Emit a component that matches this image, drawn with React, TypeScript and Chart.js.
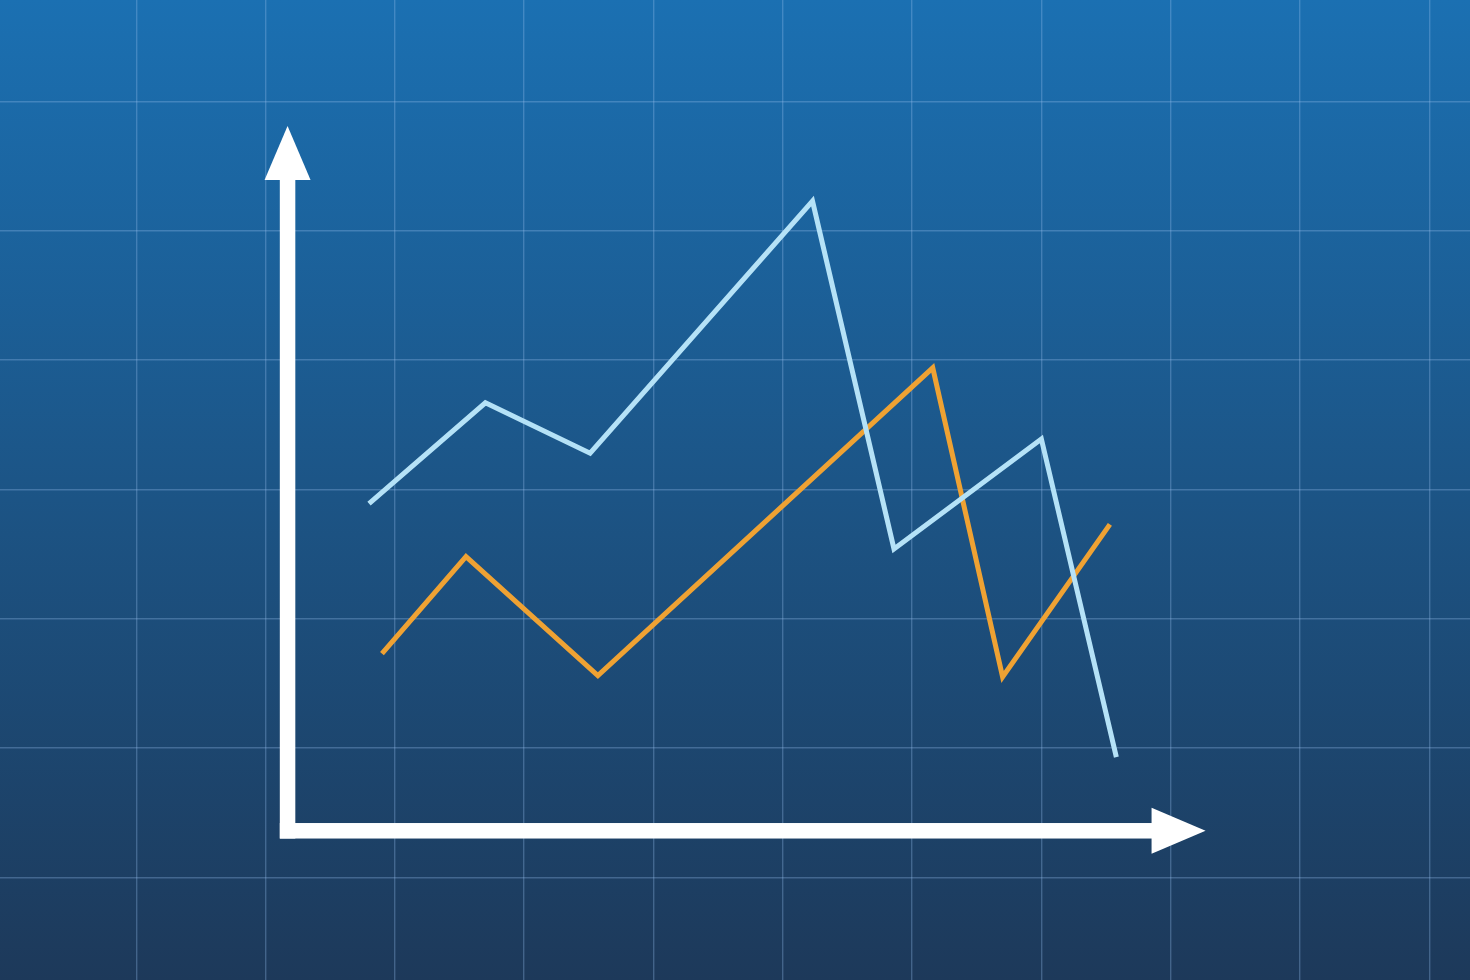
import React, { useEffect, useRef } from 'react';
import { Chart, registerables } from 'chart.js';

Chart.register(...registerables);

// values in grid units, the axis origin is (0, 0)
const blueX = [0.63, 1.53, 2.34, 4.06, 4.69, 5.83, 6.41];
const blueY = [2.53, 3.31, 2.92, 4.87, 2.18, 3.03, 0.57];
const orangeX = [0.73, 1.38, 2.4, 4.99, 5.53, 6.36];
const orangeY = [1.37, 2.12, 1.2, 3.58, 1.19, 2.37];

// background grid positions
const gridX = [-1.17, -0.17, 0.83, 1.83, 2.83, 3.83, 4.83, 5.83, 6.83, 7.83, 8.83];
const gridY = [-0.36, 0.64, 1.64, 2.64, 3.64, 4.64, 5.64];

// visible window and arrow ends
const xRange = [-2.224, 9.145];
const yRange = [-1.154, 6.425];
const axisXEnd = 7.1;
const axisYEnd = 5.45;

const toPoints = (xs: number[], ys: number[]) => xs.map((x, i) => ({ x, y: ys[i] }));

const backgroundPlugin = {
  id: 'bg',
  beforeDraw(chart: any) {
    const { ctx, width, height } = chart;
    const g = ctx.createLinearGradient(0, 0, 0, height);
    g.addColorStop(0, '#1b70b2');
    g.addColorStop(1, '#1d395a');
    ctx.save();
    ctx.fillStyle = g;
    ctx.fillRect(0, 0, width, height);
    ctx.restore();
  },
};

const arrowAxesPlugin = {
  id: 'arrowAxes',
  beforeDatasetsDraw(chart: any) {
    const { ctx } = chart;
    const xs = chart.scales.x;
    const ys = chart.scales.y;
    const ox = xs.getPixelForValue(0);
    const oy = ys.getPixelForValue(0);
    const xTip = xs.getPixelForValue(axisXEnd);
    const yTip = ys.getPixelForValue(axisYEnd);
    const half = 7.75;
    const headLen = 54;
    const headHalf = 23;
    ctx.save();
    ctx.fillStyle = '#ffffff';
    // vertical shaft
    ctx.fillRect(ox - half, yTip + headLen - 0.5, half * 2, oy + half - (yTip + headLen - 0.5));
    // horizontal shaft
    ctx.fillRect(ox - half, oy - half, xTip - headLen + 0.5 - (ox - half), half * 2);
    // heads
    ctx.beginPath();
    ctx.moveTo(ox, yTip);
    ctx.lineTo(ox + headHalf, yTip + headLen);
    ctx.lineTo(ox - headHalf, yTip + headLen);
    ctx.closePath();
    ctx.fill();
    ctx.beginPath();
    ctx.moveTo(xTip, oy);
    ctx.lineTo(xTip - headLen, oy - headHalf);
    ctx.lineTo(xTip - headLen, oy + headHalf);
    ctx.closePath();
    ctx.fill();
    ctx.restore();
  },
};

const gridOptions = {
  color: 'rgba(150, 190, 235, 0.32)',
  lineWidth: 1.4,
  drawTicks: false,
};

const App: React.FC = () => {
  const ref = useRef<HTMLCanvasElement>(null);

  useEffect(() => {
    document.body.style.margin = '0';
    if (!ref.current) return;

    const chart = new Chart(ref.current, {
      type: 'line',
      data: {
        datasets: [
          {
            label: 'Light',
            data: toPoints(blueX, blueY),
            borderColor: '#b5e2f7',
            borderWidth: 5,
            pointRadius: 0,
            tension: 0,
            borderJoinStyle: 'miter',
          },
          {
            label: 'Orange',
            data: toPoints(orangeX, orangeY),
            borderColor: '#efa233',
            borderWidth: 5,
            pointRadius: 0,
            tension: 0,
            borderJoinStyle: 'miter',
          },
        ],
      },
      options: {
        animation: false,
        responsive: true,
        maintainAspectRatio: false,
        layout: { padding: 0 },
        plugins: {
          legend: { display: false },
          tooltip: { enabled: false },
        },
        scales: {
          x: {
            type: 'linear',
            min: xRange[0],
            max: xRange[1],
            ticks: { display: false },
            border: { display: false },
            grid: gridOptions,
            afterBuildTicks: (axis: any) => {
              axis.ticks = gridX.map((value) => ({ value }));
            },
          },
          y: {
            type: 'linear',
            min: yRange[0],
            max: yRange[1],
            ticks: { display: false },
            border: { display: false },
            grid: gridOptions,
            afterBuildTicks: (axis: any) => {
              axis.ticks = gridY.map((value) => ({ value }));
            },
          },
        },
      },
      plugins: [backgroundPlugin, arrowAxesPlugin],
    });

    return () => {
      chart.destroy();
    };
  }, []);

  return (
    <div style={{ position: 'relative', width: 1470, height: 980 }}>
      <canvas ref={ref}></canvas>
    </div>
  );
};

export default App;
